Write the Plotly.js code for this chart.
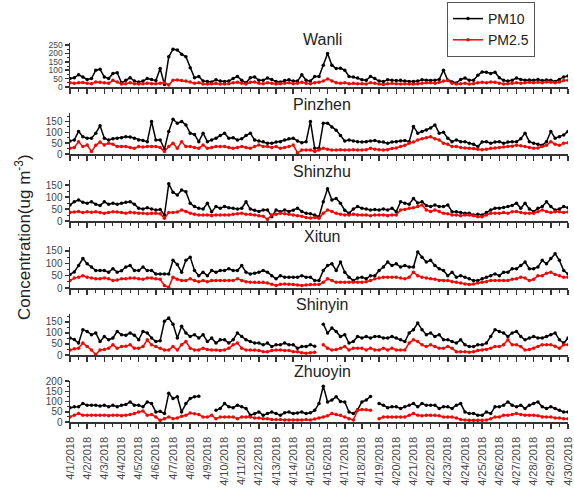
<!DOCTYPE html>
<html><head><meta charset="utf-8">
<script src="https://cdn.plot.ly/plotly-3.0.1.min.js"></script>
<style>html,body{margin:0;padding:0;background:#fff}#chart{width:574px;height:488px}</style>
</head><body><div id="chart"></div>
<script>
// Six-hourly readings (4 per day) from 4/1/2018 00:00 to 4/30/2018 00:00
const stations = ['Wanli', 'Pinzhen', 'Shinzhu', 'Xitun', 'Shinyin', 'Zhuoyin'];

const wanliPM10 = [
50,55,73,60, 45,50,100,105, 60,50,80,85, 25,40,55,35, 30,35,50,45,
38,110,15,180, 225,220,195,180, 115,55,63,35, 33,30,43,35, 33,35,50,63,
40,25,55,60, 40,40,53,45, 33,30,38,43, 35,35,73,40, 35,63,63,130,
200,130,110,112, 100,63,60,53, 43,40,63,50, 35,33,43,40, 38,40,35,33,
33,35,43,40, 38,40,45,100, 40,30,24,45, 53,40,40,70, 90,88,80,88,
55,40,35,40, 53,45,40,42, 40,45,38,42, 40,33,45,60, 65];
const wanliPM25 = [
25,22,25,27, 22,20,30,28, 25,22,40,30, 18,20,25,20, 18,20,22,20,
20,22,25,12, 40,42,38,35, 30,22,25,18, 18,20,22,18, 18,20,25,28,
22,18,28,30, 22,20,25,22, 18,20,22,25, 20,22,28,22, 20,25,28,35,
48,35,25,22, 25,20,22,20, 20,18,25,22, 18,15,20,22, 20,18,20,18,
18,20,22,25, 25,22,28,35, 38,22,18,20, 22,18,20,25, 28,25,30,28,
22,18,20,22, 25,22,25,28, 25,28,25,30, 28,25,30,38, 40];

const pinzhenPM10 = [
60,65,104,80, 73,73,96,130, 73,65,70,73, 75,80,78,73, 65,62,57,150,
65,65,22,104, 160,142,150,134, 96,90,57,96, 57,65,73,85, 96,73,75,65,
70,85,96,65, 60,57,50,50, 55,57,65,70, 73,60,52,57, 150,26,26,142,
142,125,110,85, 60,65,60,57, 55,57,60,62, 57,55,50,55, 57,60,62,57,
127,96,104,111, 120,134,96,100, 73,57,65,57, 57,50,45,34, 55,57,50,55,
57,50,55,57, 57,70,96,57, 50,45,40,57, 104,73,80,88, 104];
const pinzhenPM25 = [
26,30,57,34, 42,11,40,55, 42,50,45,34, 34,34,30,26, 34,32,34,34,
34,30,11,34, 50,26,57,34, 34,30,26,42, 26,30,34,34, 34,30,26,30,
34,30,26,34, 42,34,34,30, 34,26,30,34, 42,5,18,18, 18,12,18,26,
22,18,18,20, 18,18,20,18, 18,20,26,22, 20,18,20,25, 28,34,40,50,
55,65,70,75, 80,70,65,50, 45,34,34,30, 28,26,25,22, 20,22,26,28,
30,32,34,36, 40,38,34,30, 26,28,34,40, 57,45,40,50, 52];

const shinzhuPM10 = [
67,80,88,78, 74,80,70,65, 80,70,74,70, 74,78,80,70, 53,50,55,50,
46,48,25,155, 120,108,129,122, 74,60,53,50, 74,39,60,53, 60,55,53,50,
53,80,50,45, 40,46,46,18, 46,39,46,40, 45,53,40,32, 30,25,18,80,
135,88,94,74, 45,32,50,60, 53,50,46,48, 46,50,46,53, 39,80,74,70,
94,75,80,65, 60,67,60,60, 67,39,39,35, 32,32,25,28, 25,35,46,53,
53,56,60,65, 74,53,74,50, 39,53,60,80, 60,46,50,60, 55];
const shinzhuPM25 = [
35,38,40,35, 39,36,39,35, 32,35,39,38, 35,32,36,34, 32,32,30,32,
32,30,11,35, 35,38,46,40, 32,28,25,25, 25,22,25,25, 25,25,28,30,
32,28,28,25, 22,20,7,25, 28,32,30,28, 25,22,20,15, 12,15,11,32,
46,40,32,28, 25,25,28,25, 25,25,22,25, 25,25,22,25, 25,46,48,53,
55,60,67,46, 40,46,40,32, 30,25,25,22, 25,25,22,18, 18,25,32,32,
32,35,32,39, 40,35,32,32, 32,39,46,40, 35,39,39,35, 38];

const xitunPM10 = [
55,65,91,119, 98,85,71,71, 71,64,78,64, 70,85,91,71, 71,85,71,71,
57,57,57,57, 112,95,64,112, 125,71,50,64, 50,71,64,71, 71,78,71,71,
91,64,57,60, 64,71,64,50, 37,50,44,44, 44,44,50,44, 44,30,30,71,
91,98,71,105, 64,44,30,40, 44,37,50,50, 71,85,105,91, 98,85,91,85,
85,146,125,105, 112,91,78,71, 50,64,44,50, 44,37,30,30, 37,44,50,57,
50,64,64,78, 78,91,105,78, 78,85,112,98, 119,139,112,71, 57];
const xitunPM25 = [
30,40,44,50, 44,40,37,37, 40,37,30,32, 37,37,40,40, 37,35,40,40,
37,35,10,3, 44,35,30,30, 37,30,25,30, 25,30,30,30, 30,30,30,37,
30,25,23,23, 23,23,20,15, 10,15,16,15, 14,12,10,12, 14,14,14,23,
37,30,23,23, 23,23,23,23, 23,25,30,37, 40,44,44,44, 44,40,37,44,
64,50,44,40, 37,35,30,30, 30,25,23,20, 16,14,16,20, 23,25,30,30,
30,30,30,35, 37,44,40,30, 35,50,50,60, 64,55,50,44, 44];

const shinyinPM10 = [
77,70,54,115, 107,92,100,61, 84,69,77,107, 92,90,100,90, 69,107,100,77,
61,65,153,168, 140,77,130,100, 84,92,77,92, 61,77,54,69, 69,54,69,100,
84,69,61,54, 54,46,54,38, 46,46,54,46, 46,31,38,38, 46,40,null,140,
100,122,107,84, 92,54,61,84, 77,84,77,84, 84,77,77,84, 77,69,61,100,
115,145,115,92, 100,84,92,69, 69,61,54,69, 46,38,38,46, 46,54,84,115,
107,100,84,100, 107,84,69,77, 84,77,77,84, 92,100,69,54, 77];
const shinyinPM25 = [
23,28,31,54, 38,23,2,23, 25,31,46,31, 38,40,46,31, 31,38,69,46,
38,31,23,23, 38,23,46,61, 31,23,23,31, 25,23,23,20, 23,31,46,54,
31,23,23,23, 20,15,15,20, 23,23,20,20, 15,15,10,8, 10,12,null,46,
31,23,25,31, 38,23,31,31, 31,23,31,23, 23,31,23,31, 23,23,23,54,
69,61,46,38, 46,38,31,31, 38,31,15,15, 15,12,15,20, 23,25,31,38,
38,46,69,46, 46,38,23,25, 31,38,46,46, 46,40,31,46, 46];

const zhuoyinPM10 = [
70,74,75,90, 82,82,82,78, 82,75,82,75, 82,85,98,82, 82,74,98,90,
49,52,41,140, 115,123,49,90, 115,123,126,null, null,null,57,66, 90,74,70,82,
74,66,33,40, 49,33,41,49, 41,33,45,49, 41,44,49,41, 45,57,90,175,
98,107,123,100, 98,49,41,60, 98,107,125,null, 90,82,70,74, 74,66,74,82,
90,74,90,82, 82,82,66,74, 74,66,82,90, 49,41,41,33, 33,49,41,74,
74,82,98,82, 74,82,66,82, 90,98,74,66, 74,66,57,49, 49];
const zhuoyinPM25 = [
25,33,41,33, 33,33,33,33, 33,30,33,33, 30,33,36,41, 49,54,33,36,
25,8,16,25, 16,20,28,33, 44,40,36,25, 25,33,16,25, 25,25,25,16,
25,25,25,20, 20,16,16,12, 12,12,10,10, 10,10,10,12, 10,15,20,25,
30,41,36,33, 25,16,10,57, 61,60,57,null, 16,25,25,25, 25,25,25,33,
41,33,30,33, 33,33,30,25, 25,25,20,12, 10,8,8,8, 8,10,16,25,
25,33,33,36, 41,36,33,33, 33,30,25,25, 25,20,20,16, 16];

const pm10Series = [wanliPM10, pinzhenPM10, shinzhuPM10, xitunPM10, shinyinPM10, zhuoyinPM10];
const pm25Series = [wanliPM25, pinzhenPM25, shinzhuPM25, xitunPM25, shinyinPM25, zhuoyinPM25];

// time stamps: every 6 hours from 4/1/2018
const t0 = Date.UTC(2018, 3, 1);
const times = wanliPM10.map((_, i) => new Date(t0 + i * 6 * 3600e3).toISOString().slice(0, 16).replace('T', ' '));

// layout geometry (pixels)
const W = 574, H = 488;
const panelPx = [[43, 87], [113, 154], [180, 221], [247, 288], [314, 355], [381, 422]];
const yMax = [262, 189, 171, 166, 186, 200];
const yTickSize = [8.5, 10, 10, 10, 10, 10];
const titleY = [39, 104, 171, 236, 304, 371];
const xDom = [70 / W, 568 / W];

const traces = [];
const layout = {
  width: W, height: H,
  margin: {l: 0, r: 0, t: 0, b: 0},
  paper_bgcolor: '#fff', plot_bgcolor: '#fff',
  font: {family: 'Liberation Sans, Arial, sans-serif', color: '#333'},
  showlegend: true,
  legend: {
    x: 447 / W, y: 1 - 2 / H, xanchor: 'left', yanchor: 'top',
    bordercolor: '#555', borderwidth: 1, bgcolor: '#fff',
    font: {size: 14, color: '#222'}, tracegroupgap: 0
  },
  annotations: [],
};

stations.forEach((name, k) => {
  const sfx = k === 0 ? '' : String(k + 1);
  traces.push({
    x: times, y: pm10Series[k], name: 'PM10', type: 'scatter', mode: 'lines+markers',
    xaxis: 'x' + sfx, yaxis: 'y' + sfx, showlegend: k === 0, connectgaps: false,
    line: {color: '#000', width: 1.5}, marker: {color: '#000', size: 3.5}
  });
  traces.push({
    x: times, y: pm25Series[k], name: 'PM2.5', type: 'scatter', mode: 'lines+markers',
    xaxis: 'x' + sfx, yaxis: 'y' + sfx, showlegend: k === 0, connectgaps: false,
    line: {color: '#ff0000', width: 1.5}, marker: {color: '#ff0000', size: 3.5}
  });
  const [top, base] = panelPx[k];
  layout['xaxis' + sfx] = {
    domain: xDom, anchor: 'y' + sfx, type: 'date',
    range: ['2018-04-01', '2018-04-30'],
    dtick: 86400000, tick0: '2018-04-01', tickformat: '%-m/%-d/%Y', tickangle: -90,
    showticklabels: k === 5, tickfont: {size: 11, color: '#444'}, ticklabelstandoff: 4,
    ticks: 'outside', ticklen: 5, tickwidth: 1.5, tickcolor: '#333',
    minor: {dtick: 43200000, ticks: 'outside', ticklen: 3, tickwidth: 1, tickcolor: '#333'},
    showline: true, linecolor: '#333', linewidth: 1.5, showgrid: false, zeroline: false,
    fixedrange: true
  };
  layout['yaxis' + sfx] = {
    domain: [1 - base / H, 1 - top / H], anchor: 'x' + sfx,
    range: [0, yMax[k]], dtick: 50, tick0: 0,
    tickfont: {size: yTickSize[k], color: '#444'},
    ticks: 'outside', ticklen: 4, tickwidth: 1.5, tickcolor: '#333',
    minor: {dtick: 25, ticks: 'outside', ticklen: 2, tickwidth: 1, tickcolor: '#333'},
    showline: true, linecolor: '#333', linewidth: 1.5, showgrid: false, zeroline: false,
    fixedrange: true
  };
  layout.annotations.push({
    text: name, xref: 'paper', yref: 'paper', x: 322 / W, y: 1 - titleY[k] / H,
    xanchor: 'center', yanchor: 'middle', showarrow: false,
    font: {size: 16, color: '#222'}
  });
});

layout.annotations.push({
  text: 'Concentration(ug m<sup>-3</sup>)', xref: 'paper', yref: 'paper',
  x: 23 / W, y: 1 - 237 / H, xanchor: 'center', yanchor: 'middle', textangle: -90,
  showarrow: false, font: {size: 17, color: '#222'}
});

Plotly.newPlot('chart', traces, layout, {displayModeBar: false, staticPlot: true});
</script></body></html>
